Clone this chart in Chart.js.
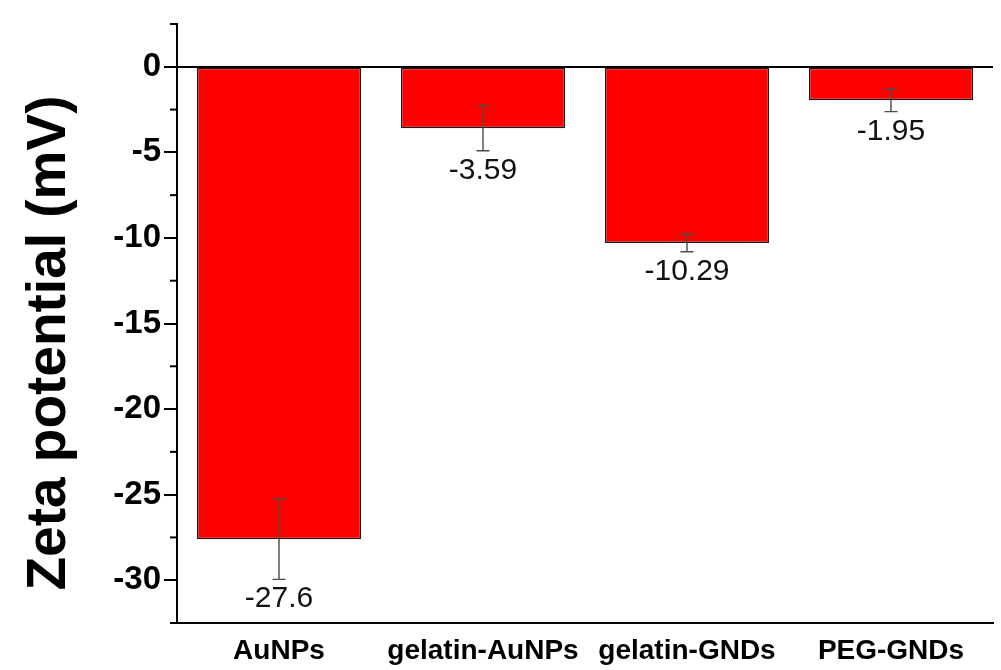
<!DOCTYPE html>
<html>
<head>
<meta charset="utf-8">
<script src="https://cdn.jsdelivr.net/npm/chart.js@4.4.1/dist/chart.umd.min.js"></script>
<style>
  html, body { margin: 0; padding: 0; background: #fff; overflow: hidden; }
  canvas { display: block; }
</style>
</head>
<body>
<canvas id="zeta" width="1001" height="670"></canvas>
<script>
// Samples and measured zeta potentials (mV) with their standard deviations
const samples = ['AuNPs', 'gelatin-AuNPs', 'gelatin-GNDs', 'PEG-GNDs'];
const zeta = [-27.6, -3.59, -10.29, -1.95];
const zetaErr = [2.35, 1.32, 0.52, 0.67];
const valueLabels = ['-27.6', '-3.59', '-10.29', '-1.95'];

// Y axis: labelled major ticks, minor ticks halfway between
const yMin = -32.5;
const yMax = 2.5;
const yMajorTicks = [0, -5, -10, -15, -20, -25, -30];
const yMinorTicks = [2.5, -2.5, -7.5, -12.5, -17.5, -22.5, -27.5, -32.5];

const FONT = '"Liberation Sans", Arial, Helvetica, sans-serif';
const isMajor = v => yMajorTicks.some(t => Math.abs(t - v) < 1e-6);

// White page background
const whiteBackground = {
  id: 'whiteBackground',
  beforeDraw(chart) {
    const c = chart.ctx;
    c.save();
    c.fillStyle = '#ffffff';
    c.fillRect(0, 0, chart.width, chart.height);
    c.restore();
  }
};

// Short outward minor ticks on the y axis
const minorTicks = {
  id: 'minorTicks',
  afterDraw(chart) {
    const c = chart.ctx;
    const y = chart.scales.y;
    const left = chart.chartArea.left;
    c.save();
    c.strokeStyle = '#000';
    c.lineWidth = 2;
    yMinorTicks.forEach(v => {
      const py = y.getPixelForValue(v);
      c.beginPath();
      c.moveTo(left - 7, py);
      c.lineTo(left, py);
      c.stroke();
    });
    c.restore();
  }
};

// Error bars and value labels under each bar
const errorBars = {
  id: 'errorBars',
  afterDatasetsDraw(chart) {
    const c = chart.ctx;
    const y = chart.scales.y;
    const meta = chart.getDatasetMeta(0);
    c.save();
    meta.data.forEach((bar, i) => {
      const x = bar.x;
      const yHi = y.getPixelForValue(zeta[i] + zetaErr[i]);
      const yLo = y.getPixelForValue(zeta[i] - zetaErr[i]);
      c.strokeStyle = '#4a4a4a';
      c.lineWidth = 1.4;
      c.beginPath();
      c.moveTo(x, yHi); c.lineTo(x, yLo);
      c.moveTo(x - 6.5, yHi); c.lineTo(x + 6.5, yHi);
      c.moveTo(x - 6.5, yLo); c.lineTo(x + 6.5, yLo);
      c.stroke();

      c.fillStyle = '#111';
      c.font = '30px ' + FONT;
      c.textAlign = 'center';
      c.textBaseline = 'alphabetic';
      c.fillText(valueLabels[i], x, yLo + 28);
    });
    c.restore();
  }
};

// Rotated y-axis title
const yTitle = {
  id: 'yTitle',
  afterDraw(chart) {
    const c = chart.ctx;
    c.save();
    c.translate(65, 343);
    c.rotate(-Math.PI / 2);
    c.fillStyle = '#000';
    c.font = 'bold 55px ' + FONT;
    c.textAlign = 'center';
    c.textBaseline = 'alphabetic';
    c.fillText('Zeta potential (mV)', 0, 0);
    c.restore();
  }
};

new Chart(document.getElementById('zeta'), {
  type: 'bar',
  data: {
    labels: samples,
    datasets: [{
      data: zeta,
      backgroundColor: '#ff0000',
      borderColor: '#1a1a1a',
      borderWidth: 1.5,
      borderSkipped: false,
      barPercentage: 0.805,
      categoryPercentage: 1.0
    }]
  },
  options: {
    responsive: false,
    animation: false,
    devicePixelRatio: 1,
    layout: { padding: { top: 24, left: 0, right: 8, bottom: 0 } },
    plugins: {
      legend: { display: false },
      tooltip: { enabled: false }
    },
    scales: {
      x: {
        grid: { display: false, drawTicks: false },
        border: { display: true, color: '#000', width: 2 },
        ticks: {
          color: '#000',
          padding: 11,
          maxRotation: 0,
          autoSkip: false,
          font: { family: FONT, size: 28, weight: 'bold' }
        },
        afterFit(s) { s.height = 47; }
      },
      y: {
        min: yMin,
        max: yMax,
        grid: {
          display: true,
          drawOnChartArea: true,
          drawTicks: true,
          tickLength: 13,
          color: ctx => (ctx.tick && Math.abs(ctx.tick.value) < 1e-6) ? '#000' : 'rgba(0,0,0,0)',
          lineWidth: 2,
          tickColor: ctx => (ctx.tick && isMajor(ctx.tick.value)) ? '#000' : 'rgba(0,0,0,0)',
          tickWidth: 2
        },
        border: { display: true, color: '#000', width: 2 },
        ticks: {
          stepSize: 2.5,
          color: '#000',
          padding: 3,
          font: { family: FONT, size: 33, weight: 'bold' },
          callback: v => isMajor(v) ? String(Math.round(v)) : ''
        },
        afterFit(s) { s.width = 177; }
      }
    }
  },
  plugins: [whiteBackground, minorTicks, errorBars, yTitle]
});
</script>
</body>
</html>
